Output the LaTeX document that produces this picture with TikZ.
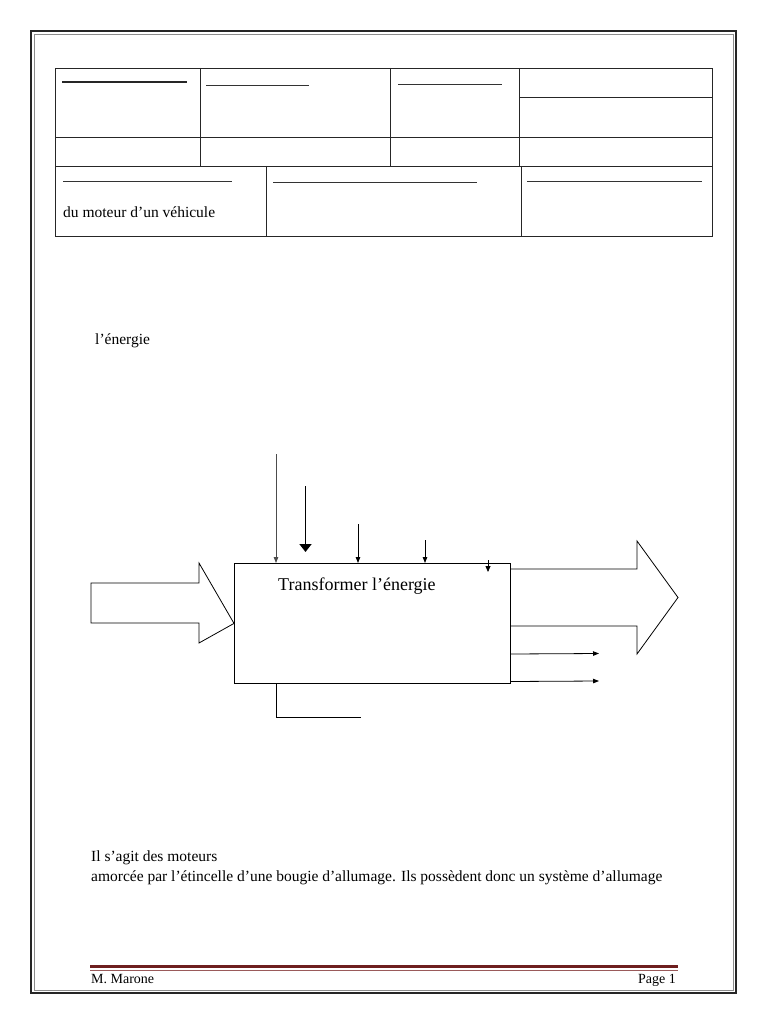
\documentclass[tikz,border=0pt]{standalone}
\usepackage{fontspec}
\setmainfont{Liberation Serif}
\usetikzlibrary{arrows.meta}
\definecolor{footred}{HTML}{6E1F1F}
\definecolor{footred2}{HTML}{9A5A5A}
\tikzset{
  tline/.style={line width=0.8pt, draw=black!85},
  uline/.style={line width=0.9pt, draw=black!80},
  bigarrow/.style={line width=0.8pt, draw=black},
  sarrow/.style={line width=0.8pt, -{Triangle[length=6pt,width=4.5pt]}},
  txt/.style={inner sep=0pt, font=\fontsize{15.5}{18}\selectfont},
  foot/.style={inner sep=0pt, font=\fontsize{14}{16}\selectfont},
}
\begin{document}
\begin{tikzpicture}[x=1pt,y=-1pt]
\useasboundingbox (0,0) rectangle (768,1024);
% page frame
\draw[line width=2pt, black!85] (31,31) rectangle (736,993);
\draw[line width=0.8pt, black!45] (34,34) rectangle (733,990.5);

% header table
\draw[tline] (55,68) rectangle (712,236);
\draw[tline] (55,137) -- (712,137);
\draw[tline] (55,166) -- (712,166);
\draw[tline] (200,68) -- (200,166);
\draw[tline] (390,68) -- (390,166);
\draw[tline] (519,68) -- (519,166);
\draw[tline] (519,97) -- (712,97);
\draw[tline] (266,166) -- (266,236);
\draw[tline] (521,166) -- (521,236);
% underlines in cells
\draw[line width=1.5pt, black!85] (62,82) -- (187,82);
\draw[uline] (206,85) -- (309,85);
\draw[uline] (398,84) -- (502,84);
\draw[uline] (63,181) -- (232,181);
\draw[uline] (273,182) -- (477,182);
\draw[uline] (527,181) -- (702,181);
\node[txt, anchor=base west] (t1) at (63,218) {du moteur d’un véhicule};

\node[txt, anchor=base west] (t2) at (95,344) {l’énergie};

% main block
\node[draw, line width=0.8pt, minimum width=276pt, minimum height=120pt, inner sep=0pt, anchor=north west] (box) at (234,563) {};
\node[inner sep=0pt, anchor=base west, font=\fontsize{18}{21}\selectfont] (title) at (278,590) {Transformer l’énergie};

% input big arrow
\draw[bigarrow] (box.west) -- (199,643) -- (199,623) -- (91,623) -- (91,583) -- (199,583) -- (199,563) -- cycle;
% output big arrow
\coordinate (oa1) at (box.east |- 0,569);
\coordinate (oa2) at (box.east |- 0,626);
\draw[bigarrow] (oa1) -- (637,569) -- (637,541) -- (678,597.5) -- (637,654) -- (637,626) -- (oa2);

% top arrows
\coordinate (a1) at (276,454);
\coordinate (a2) at (305.5,486);
\coordinate (a2e) at (305.5,552);
\coordinate (a3) at (358,524);
\coordinate (a4) at (425,540);
\coordinate (a5) at (488,560);
\coordinate (a5e) at (488,572);
\draw[sarrow, draw=black!70] (a1) -- (a1 |- box.north);
\draw[line width=1.6pt, -{Triangle[length=8pt,width=12pt]}] (a2) -- (a2e);
\draw[sarrow] (a3) -- (a3 |- box.north);
\draw[sarrow] (a4) -- (a4 |- box.north);
\draw[line width=0.8pt, -{Triangle[length=6pt,width=5pt]}] (a5) -- (a5e);

% small output arrows
\coordinate (s1) at (box.east |- 0,654);
\coordinate (s1e) at (599,653.5);
\coordinate (s2) at (box.east |- 0,681.5);
\coordinate (s2e) at (599,681);
\draw[sarrow] (s1) -- (s1e);
\draw[sarrow] (s2) -- (s2e);

% bottom bracket line
\coordinate (b1) at (box.south -| 276,0);
\coordinate (b2) at (276,717);
\coordinate (b3) at (361,717);
\draw[line width=0.8pt] (b1) -- (b2) -- (b3);

% bottom text
\node[txt, anchor=base west] (p1) at (91,861) {Il s’agit des moteurs};
\node[txt, anchor=base west] (p2) at (91,881) {amorcée par l’étincelle d’une bougie d’allumage. Ils possèdent donc un système d’allumage};

% footer
\draw[line width=3pt, footred] (90,966) -- (678,966);
\draw[line width=0.9pt, footred2] (90,970) -- (678,970);
\node[foot, anchor=base west] (f1) at (91,983) {M. Marone};
\node[foot, anchor=base east] (f2) at (676,983) {Page 1};
\end{tikzpicture}
\end{document}
